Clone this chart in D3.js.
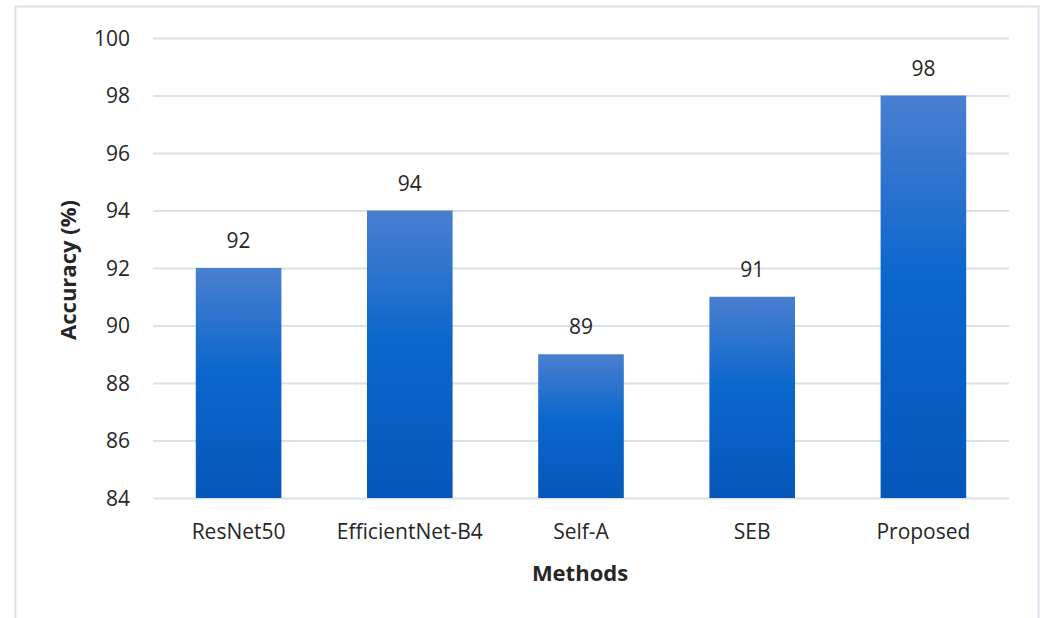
<!DOCTYPE html>
<html>
<head>
<meta charset="utf-8">
<script src="https://cdn.jsdelivr.net/npm/d3@7"></script>
<style>
  body { margin: 0; background: #fff; }
  text { font-family: "Open Sans", "Noto Sans", sans-serif; fill: #262626; }
</style>
</head>
<body>
<div id="chart"></div>
<script>
// chart values
var methods = ["ResNet50", "EfficientNet-B4", "Self-A", "SEB", "Proposed"];
var accuracy = [92, 94, 89, 91, 98];
var yTicks = [84, 86, 88, 90, 92, 94, 96, 98, 100];

var width = 1046, height = 618;
var margin = { left: 153, right: 37, top: 38, bottom: 120 };

var svg = d3.select("#chart")
    .append("svg")
    .attr("width", width)
    .attr("height", height)

// outer frame
svg.append("rect")
    .attr("x", 15.5)
    .attr("y", 6.5)
    .attr("width", 1023)
    .attr("height", 640)
    .attr("fill", "none")
    .attr("stroke", "#d9e1ea")
    .attr("stroke-width", 2)

var defs = svg.append("defs");
var grad = defs.append("linearGradient")
    .attr("id", "barGrad")
    .attr("x1", 0).attr("y1", 0).attr("x2", 0).attr("y2", 1)
grad.append("stop").attr("offset", "0%").attr("stop-color", "#4a7fd0")
grad.append("stop").attr("offset", "45%").attr("stop-color", "#0b67cc")
grad.append("stop").attr("offset", "100%").attr("stop-color", "#0656b9")

var x = d3.scaleBand()
    .domain(methods)
    .range([margin.left, width - margin.right])
    .paddingInner(0.5)
    .paddingOuter(0.25)

var y = d3.scaleLinear()
    .domain([84, 100])
    .range([height - margin.bottom, margin.top])

// gridlines
svg.append("g")
    .selectAll("line")
    .data(yTicks)
    .enter().append("line")
    .attr("x1", margin.left)
    .attr("x2", width - margin.right)
    .attr("y1", function(d){ return y(d) + 0.5; })
    .attr("y2", function(d){ return y(d) + 0.5; })
    .attr("stroke", "#d9e1ea")
    .attr("stroke-width", 2)

// y axis labels
var yAxis = d3.axisLeft(y).tickValues(yTicks).tickSize(0).tickPadding(23);
var gy = svg.append("g")
    .attr("transform", "translate(" + margin.left + ",0)")
    .call(yAxis)
gy.select(".domain").remove()
gy.selectAll("text")
    .attr("font-size", 21)
    .attr("font-family", null)
    .attr("dy", "0.35em")

// bars
var data = methods.map(function(m, i){ return { name: m, value: accuracy[i] }; });

svg.append("g")
    .selectAll("rect")
    .data(data)
    .enter().append("rect")
    .attr("x", function(d){ return x(d.name); })
    .attr("y", function(d){ return y(d.value); })
    .attr("width", x.bandwidth())
    .attr("height", function(d){ return y(84) - y(d.value); })
    .attr("fill", "url(#barGrad)")

// value labels
svg.append("g")
    .selectAll("text")
    .data(data)
    .enter().append("text")
    .attr("x", function(d){ return x(d.name) + x.bandwidth() / 2; })
    .attr("y", function(d){ return y(d.value) - 20; })
    .attr("text-anchor", "middle")
    .attr("font-size", 21)
    .text(function(d){ return d.value; })

// x axis labels
var xAxis = d3.axisBottom(x).tickSize(0).tickPadding(26);
var gx = svg.append("g")
    .attr("transform", "translate(0," + (height - margin.bottom) + ")")
    .call(xAxis)
gx.select(".domain").remove()
gx.selectAll("text")
    .attr("font-size", 21)
    .attr("font-family", null)

// axis titles
svg.append("text")
    .attr("x", (margin.left + width - margin.right) / 2 - 1)
    .attr("y", 581)
    .attr("text-anchor", "middle")
    .attr("font-size", 22)
    .attr("font-weight", "bold")
    .text("Methods")

svg.append("text")
    .attr("transform", "translate(76," + ((margin.top + height - margin.bottom) / 2 + 2) + ") rotate(-90)")
    .attr("text-anchor", "middle")
    .attr("font-size", 22)
    .attr("font-weight", "bold")
    .text("Accuracy (%)")
</script>
</body>
</html>
